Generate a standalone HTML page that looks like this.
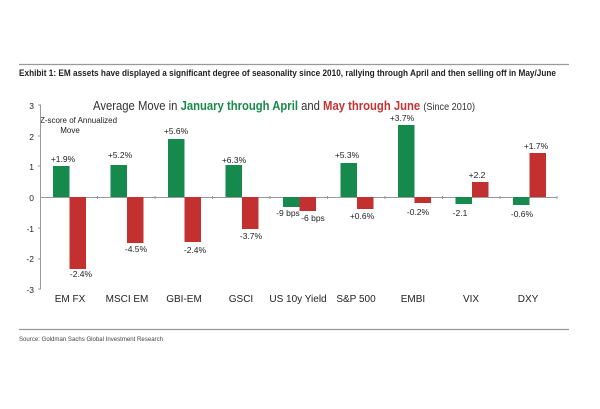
<!DOCTYPE html><html><head><style>body{margin:0;background:#fff}svg{display:block}text{font-family:"Liberation Sans",sans-serif}</style></head><body>
<svg width="600" height="409" viewBox="0 0 600 409">
<line x1="19" y1="64.5" x2="569" y2="64.5" stroke="#999" stroke-width="1.2"/>
<text x="19" y="76" font-size="9" font-weight="bold" fill="#222" textLength="537" lengthAdjust="spacingAndGlyphs">Exhibit 1: EM assets have displayed a significant degree of seasonality since 2010, rallying through April and then selling off in May/June</text>
<text x="93" y="110" font-size="13" fill="#333" textLength="382" lengthAdjust="spacingAndGlyphs">Average Move in <tspan fill="#1a8a4a" font-weight="bold">January through April</tspan> and <tspan fill="#c83232" font-weight="bold">May through June</tspan> <tspan font-size="10.5">(Since 2010)</tspan></text>
<text x="40" y="123" font-size="8" fill="#222" textLength="77" lengthAdjust="spacingAndGlyphs">Z-score of Annualized</text>
<text x="70" y="133" font-size="8" fill="#222" text-anchor="middle">Move</text>
<g font-size="8.5" fill="#222" text-anchor="end">
<text x="34" y="109">3</text><text x="34" y="140">2</text><text x="34" y="170">1</text><text x="34" y="201">0</text><text x="34" y="232">-1</text><text x="34" y="262">-2</text><text x="34" y="293">-3</text></g>
<line x1="40.5" y1="105" x2="40.5" y2="289" stroke="#999"/>
<line x1="40" y1="197.5" x2="557" y2="197.5" stroke="#999"/>
<g stroke="#999"><line x1="38" y1="105" x2="41" y2="105"/><line x1="38" y1="136" x2="41" y2="136"/><line x1="38" y1="166" x2="41" y2="166"/><line x1="38" y1="228" x2="41" y2="228"/><line x1="38" y1="259" x2="41" y2="259"/><line x1="38" y1="289" x2="41" y2="289"/>
<line x1="97.5" y1="196" x2="97.5" y2="199"/><line x1="155" y1="196" x2="155" y2="199"/><line x1="212.5" y1="196" x2="212.5" y2="199"/><line x1="270" y1="196" x2="270" y2="199"/><line x1="327.5" y1="196" x2="327.5" y2="199"/><line x1="385" y1="196" x2="385" y2="199"/><line x1="442.5" y1="196" x2="442.5" y2="199"/><line x1="500" y1="196" x2="500" y2="199"/><line x1="557" y1="196" x2="557" y2="199"/></g>
<g fill="#168a4c">
<rect x="53" y="166" width="16.5" height="31"/>
<rect x="110.5" y="165" width="16.5" height="32"/>
<rect x="168" y="139" width="16.5" height="58"/>
<rect x="225.5" y="165" width="16.5" height="32"/>
<rect x="283" y="197" width="16.5" height="10"/>
<rect x="340.5" y="163" width="16.5" height="34"/>
<rect x="398" y="125" width="16.5" height="72"/>
<rect x="455.5" y="197" width="16.5" height="7"/>
<rect x="513" y="197" width="16.5" height="8"/>
</g>
<g fill="#c23030">
<rect x="69.5" y="197" width="16.5" height="72"/>
<rect x="127" y="197" width="16.5" height="46"/>
<rect x="184.5" y="197" width="16.5" height="45"/>
<rect x="242" y="197" width="16.5" height="32"/>
<rect x="299.5" y="197" width="16.5" height="14"/>
<rect x="357" y="197" width="16.5" height="12"/>
<rect x="414.5" y="197" width="16.5" height="6"/>
<rect x="472" y="182" width="16.5" height="15"/>
<rect x="529.5" y="153" width="16.5" height="44"/>
</g>
<g font-size="8.5" fill="#222" text-anchor="middle">
<text x="63" y="162">+1.9%</text><text x="120" y="158">+5.2%</text><text x="176" y="134">+5.6%</text><text x="234" y="163">+6.3%</text><text x="347" y="158">+5.3%</text><text x="402" y="121">+3.7%</text><text x="477" y="178">+2.2</text><text x="536" y="149">+1.7%</text>
<text x="81" y="277">-2.4%</text><text x="136" y="252">-4.5%</text><text x="195" y="253">-2.4%</text><text x="251" y="239">-3.7%</text>
<text x="288" y="216">-9 bps</text><text x="313" y="221">-6 bps</text><text x="362" y="219">+0.6%</text><text x="418" y="215">-0.2%</text><text x="460" y="216">-2.1</text><text x="522" y="217">-0.6%</text>
</g>
<g font-size="10" fill="#222" text-anchor="middle">
<text x="70" y="302">EM FX</text><text x="127" y="302">MSCI EM</text><text x="184" y="302">GBI-EM</text><text x="241" y="302">GSCI</text><text x="298" y="302">US 10y Yield</text><text x="356" y="302">S&amp;P 500</text><text x="413" y="302">EMBI</text><text x="471" y="302">VIX</text><text x="528" y="302">DXY</text></g>
<line x1="19" y1="329.5" x2="569" y2="329.5" stroke="#999" stroke-width="1.2"/>
<text x="19" y="341" font-size="6.5" fill="#444" textLength="144" lengthAdjust="spacingAndGlyphs">Source: Goldman Sachs Global Investment Research</text>
</svg></body></html>
